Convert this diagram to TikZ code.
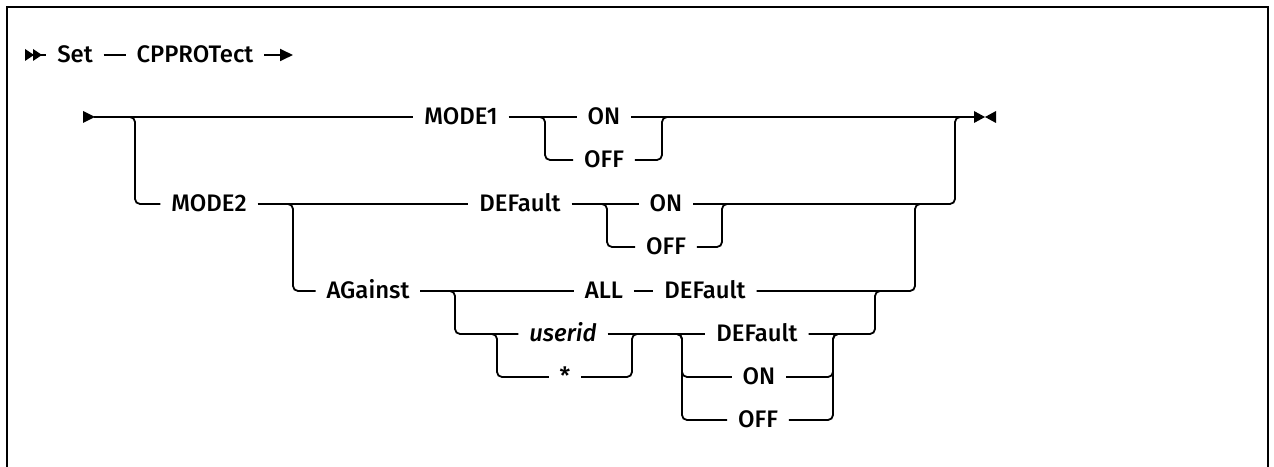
\documentclass[tikz,border=0pt]{standalone}
\usepackage{fontspec}
\IfFontExistsTF{IBM Plex Sans Medium}{%
  \setmainfont{IBM Plex Sans Medium}}{%
  \IfFontExistsTF{Fira Sans Medium}{%
    \setmainfont{Fira Sans Medium}[ItalicFont={Fira Sans Medium Italic}]}{%
    \setmainfont{Fira Sans}[FakeBold=2.5]}}
\usetikzlibrary{arrows.meta}
\begin{document}
\begin{tikzpicture}[x=1bp,y=-1bp,line width=1.8bp,
  kw/.style={inner xsep=10bp,inner ysep=0bp,text height=16bp,text depth=0bp,font=\fontsize{24}{26}\selectfont},
  rr/.style={rounded corners=5bp},
  tipfill/.style={fill=black,draw=none}]
\useasboundingbox (0,0) rectangle (1274,467);
\draw[line width=2bp] (7,467) -- (7,7) -- (1268,7) -- (1268,467);
% title line
\fill[tipfill] (25,49) -- (34,55) -- (25,61) -- cycle;
\fill[tipfill] (33,49) -- (42,55) -- (33,61) -- cycle;
\coordinate (t0) at (41,55);
\coordinate (tend) at (293,55);
\node[kw] (set) at (75,55) {Set};
\node[kw] (cpp) at (195,55) {CPPROTect};
\draw (t0) -- (set);
\draw (set) -- (cpp);
\draw[-{Triangle[length=13bp,width=12bp]}] (cpp) -- (tend);
% row 1
\fill[tipfill] (83,111) -- (95,117) -- (83,123) -- cycle;
\coordinate (s1) at (94,117);
\coordinate (e1) at (975,117);
\fill[tipfill] (974,111) -- (985,117) -- (974,123) -- cycle;
\fill[tipfill] (996,111) -- (985,117) -- (996,123) -- cycle;
\node[kw] (mode1) at (461,117) {MODE1};
\node[kw] (on1) at (604,117) {ON};
\node[kw] (off1) at (604,160) {OFF};
\draw (s1) -- (mode1);
\draw (mode1) -- (on1);
\draw (on1) -- (e1);
\coordinate (b2) at (545,117);
\coordinate (m2) at (662,117);
\draw[rr] ([xshift=-6bp]b2) -- (b2) |- (off1);
\draw[rr] (off1) -| (m2) -- ([xshift=6bp]m2);
% row 3
\coordinate (b1) at (135,117);
\coordinate (m1) at (955,117);
\node[kw] (mode2) at (209,204) {MODE2};
\node[kw] (def2) at (520,204) {DEFault};
\node[kw] (on2) at (666,204) {ON};
\node[kw] (off2) at (666,247) {OFF};
\draw[rr] ([xshift=-6bp]b1) -- (b1) |- (mode2);
\draw (mode2) -- (def2);
\draw (def2) -- (on2);
\draw[rr] (on2) -| (m1) -- ([xshift=6bp]m1);
\coordinate (b4) at (607,204);
\coordinate (m4) at (722,204);
\draw[rr] ([xshift=-6bp]b4) -- (b4) |- (off2);
\draw[rr] (off2) -| (m4) -- ([xshift=6bp]m4);
% row 5
\coordinate (b3) at (293,204);
\coordinate (m3) at (915,204);
\node[kw] (against) at (368,291) {AGainst};
\node[kw] (all) at (604,291) {ALL};
\node[kw] (def3) at (705,291) {DEFault};
\draw[rr] ([xshift=-6bp]b3) -- (b3) |- (against);
\draw (against) -- (all);
\draw (all) -- (def3);
\draw[rr] (def3) -| (m3) -- ([xshift=6bp]m3);
% row 6
\coordinate (b5) at (455,291);
\coordinate (m5) at (875,291);
\node[kw] (userid) at (563,334) {\itshape userid};
\node[kw] (star) at (565,377) {*};
\node[kw] (def4) at (757,334) {DEFault};
\node[kw] (on4) at (759,377) {ON};
\node[kw] (off4) at (758,420) {OFF};
\draw[rr] ([xshift=-6bp]b5) -- (b5) |- (userid);
\draw (userid) -- (def4);
\draw[rr] (def4) -| (m5) -- ([xshift=6bp]m5);
\coordinate (b6) at (497,334);
\coordinate (m6) at (632,334);
\draw[rr] ([xshift=-6bp]b6) -- (b6) |- (star);
\draw[rr] (star) -| (m6) -- ([xshift=6bp]m6);
\coordinate (b7) at (682,334);
\coordinate (m7) at (833,334);
\draw[rr] ([xshift=-6bp]b7) -- (b7) |- (on4);
\draw[rr] ([xshift=-6bp]b7) -- (b7) |- (off4);
\draw[rr] (on4) -| (m7) -- ([xshift=6bp]m7);
\draw[rr] (off4) -| (m7) -- ([xshift=6bp]m7);
\end{tikzpicture}
\end{document}
